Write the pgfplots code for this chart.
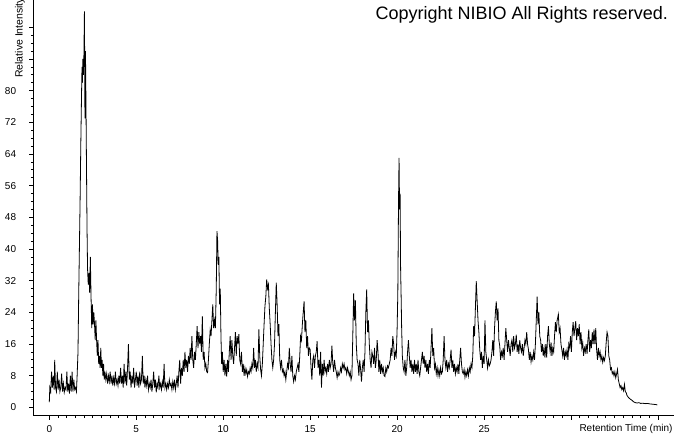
\documentclass[border=0pt]{standalone}
\usepackage{fontspec}
\setmainfont{Liberation Sans}
\usepackage{pgfplots}
\pgfplotsset{compat=1.18}
\usepackage{pgfplotstable}
\pgfplotstableread{
t v
0.00 1.3
0.03 5
0.08 4
0.13 9
0.18 5
0.23 8
0.28 4.5
0.31 12
0.36 5
0.41 4
0.46 9
0.51 4.5
0.56 7
0.61 4
0.66 5
0.71 8.5
0.76 4
0.81 6
0.86 3.8
0.91 5
0.96 4.5
1.01 9
1.06 4
1.11 6
1.16 3.5
1.21 8
1.26 4
1.31 9
1.36 4
1.41 7
1.46 4.5
1.51 5
1.56 4
1.60 8
1.65 14
1.69 28
1.73 40
1.77 52
1.81 66
1.85 78
1.88 86
1.90 82
1.93 88
1.96 84
1.99 89
2.02 100
2.05 73
2.08 90
2.11 76
2.14 60
2.17 45
2.20 35
2.24 31
2.28 34
2.32 29
2.36 38
2.40 28
2.44 20
2.48 26
2.52 21
2.56 24
2.60 21
2.64 17
2.68 22
2.72 17
2.76 13
2.80 17
2.84 11
2.88 13
2.92 10
2.96 15
3.00 10
3.04 12
3.08 8
3.12 11
3.16 7
3.20 9
3.25 7
3.30 8.5
3.35 6
3.40 8
3.45 6.5
3.50 9
3.55 6
3.60 8
3.65 5.5
3.70 7.5
3.75 6
3.80 9
3.85 6
3.90 7
3.95 5.5
4.00 8
4.05 6
4.10 10
4.15 6
4.20 8
4.25 5
4.30 11
4.35 6
4.40 9
4.45 5.5
4.50 10
4.55 16
4.60 7
4.65 9
4.70 5
4.75 8
4.80 6
4.85 10
4.90 5
4.95 7
5.00 9
5.05 5.5
5.10 8
5.15 5
5.20 9
5.25 6
5.30 7
5.35 13
5.40 6
5.45 8
5.50 5
5.55 7
5.60 5.5
5.65 8
5.70 4.5
5.75 6
5.80 5
5.85 7
5.90 4
5.95 6
6.00 9
6.05 5
6.10 7
6.15 3.8
6.20 6
6.25 5
6.30 8
6.35 5
6.40 6
6.45 4.5
6.50 6.5
6.55 5
6.60 11
6.65 5
6.70 6
6.75 4.5
6.80 6
6.85 5
6.90 7
6.95 5.5
7.00 6
7.05 4.5
7.10 6.5
7.15 5
7.20 7
7.25 4.5
7.30 6
7.35 8
7.40 5
7.45 9
7.50 12
7.55 6
7.60 10
7.65 8
7.70 12
7.75 9
7.80 14
7.85 10
7.90 12
7.95 9
8.00 13
8.05 11
8.10 15
8.15 12
8.20 18
8.25 12
8.30 10
8.35 14
8.40 12
8.45 16
8.50 20.5
8.55 15
8.60 19
8.65 16
8.70 18
8.75 14
8.80 23
8.85 12
8.90 14
8.95 10
9.00 11
9.05 9
9.10 8.8
9.15 12
9.20 16
9.25 19.5
9.30 18
9.35 22
9.40 26
9.45 20
9.50 22
9.55 20
9.60 30
9.64 44.5
9.68 42
9.71 36
9.75 38
9.79 26
9.83 30
9.87 18
9.91 11
9.95 14
10.00 9
10.05 12
10.10 8
10.15 11
10.20 7.8
10.25 12
10.30 9
10.35 14
10.40 18
10.45 12
10.50 17
10.55 13
10.60 11
10.65 15
10.70 19
10.75 13
10.80 18
10.85 16
10.90 18.5
10.95 12
11.00 11
11.05 14
11.10 9
11.15 11
11.20 8
11.25 10
11.30 8.5
11.35 9.5
11.40 7.8
11.45 9
11.50 8.5
11.55 10
11.60 9
11.65 11
11.70 10
11.75 15
11.80 10
11.85 12
11.90 9
11.95 11
12.00 10
12.05 19.7
12.10 13
12.15 9.6
12.20 8
12.25 11
12.30 16
12.35 21
12.40 25.6
12.45 28
12.50 32.3
12.55 30
12.60 31
12.65 25
12.70 21
12.75 16
12.80 12
12.85 10
12.90 12
12.95 16
13.00 24
13.05 31.5
13.10 26
13.15 18
13.20 21
13.25 12
13.30 10
13.35 12
13.40 9
13.45 9.6
13.50 8
13.55 9
13.60 7
13.65 9
13.70 11
13.75 10
13.80 15
13.85 11
13.90 9
13.95 13
14.00 8
14.05 6.5
14.10 8
14.15 7
14.20 9
14.25 10
14.30 11
14.35 9
14.40 13
14.45 18
14.50 17
14.55 21
14.60 24
14.65 26.8
14.70 19
14.75 22
14.80 15
14.85 18
14.90 13
14.95 15
15.00 14.6
15.05 10
15.10 7
15.15 12
15.20 13
15.25 10
15.30 13
15.35 14
15.40 16.7
15.45 10
15.50 12
15.55 8
15.60 14
15.65 5
15.70 11
15.75 8
15.80 12
15.85 9
15.90 10
15.95 8.5
16.00 11
16.05 9
16.10 12
16.15 10
16.20 11
16.25 15.6
16.30 11
16.35 9
16.40 12
16.45 10
16.50 9
16.55 7.5
16.60 9
16.65 8
16.70 8.5
16.75 10
16.80 9
16.85 11
16.90 10
16.95 11
17.00 9.5
17.05 10
17.10 8.5
17.15 10
17.20 9
17.25 8
17.30 9
17.35 7
17.40 8
17.45 18
17.50 28.8
17.55 22
17.60 27
17.65 16
17.70 12
17.75 11
17.80 8
17.85 12
17.90 9.6
17.95 6.5
18.00 10
18.05 12
18.10 9
18.15 14
18.20 24
18.25 29.8
18.30 19
18.35 22
18.40 16
18.45 12
18.50 10
18.55 14
18.60 13
18.65 11
18.70 15
18.75 10
18.80 12
18.85 17
18.90 14
18.95 9
19.00 12
19.05 8.5
19.10 11
19.15 9
19.20 10
19.25 8
19.30 7.8
19.35 10
19.40 9
19.45 10.5
19.50 10
19.55 11
19.60 12
19.65 15
19.70 13
19.75 18
19.80 16
19.85 12
19.90 14
19.95 13
20.00 20
20.04 29
20.08 52
20.11 63
20.14 50
20.17 54
20.20 35
20.23 28
20.26 20
20.30 13
20.35 10
20.40 9
20.45 12
20.50 8
20.55 10
20.60 14
20.65 17
20.70 13
20.75 10
20.80 12
20.85 9
20.90 11
20.95 8.5
21.00 12
21.05 9
21.10 11
21.15 8.5
21.20 12
21.25 9
21.30 8
21.35 10
21.40 12
21.45 14
21.50 11
21.55 13
21.60 10
21.65 12
21.70 9
21.75 11
21.80 8.5
21.85 12
21.90 10
21.95 15
22.00 20
22.05 13
22.10 15
22.15 10
22.20 11
22.25 8.5
22.30 10
22.35 8
22.40 9.5
22.45 8
22.50 10
22.55 8.5
22.60 9
22.65 12
22.70 18
22.75 12
22.80 10
22.85 12
22.90 9
22.95 11
23.00 10
23.05 12
23.10 14.6
23.15 10
23.20 12
23.25 9
23.30 11
23.35 8.5
23.40 10
23.45 9
23.50 11
23.55 8.5
23.60 12
23.65 15
23.70 11
23.75 9
23.80 8.5
23.85 9.6
23.90 7.6
23.95 9
24.00 8
24.05 9.5
24.10 8
24.15 10
24.20 9
24.25 11
24.30 10
24.35 13
24.40 20.5
24.45 18
24.50 25
24.55 31.9
24.60 27
24.65 22
24.70 19
24.75 14.6
24.80 12
24.85 14
24.90 10
24.95 13
25.00 11
25.05 22
25.10 14
25.15 12
25.20 10
25.25 12
25.30 10.5
25.35 11
25.40 12
25.45 14
25.50 17
25.55 13
25.60 20
25.65 24
25.70 26.8
25.75 22
25.80 25
25.85 17
25.90 15.5
25.95 12
26.00 14
26.05 13
26.10 15
26.15 12
26.20 16
26.25 20
26.30 17
26.35 14
26.40 17
26.45 15
26.50 13
26.55 16
26.60 17
26.65 14
26.70 18
26.75 15
26.80 16
26.85 18.4
26.90 14
26.95 16
27.00 13.5
27.05 17
27.10 15
27.15 14
27.20 16
27.25 13
27.30 15
27.35 17
27.40 16
27.45 19
27.50 16
27.55 14.6
27.60 12
27.65 14
27.70 11.5
27.75 13
27.80 12
27.85 14
27.90 12
27.95 16
28.00 22
28.05 28
28.10 21
28.15 24
28.20 18
28.25 17
28.30 14
28.35 16
28.40 13
28.45 15
28.50 12.6
28.55 16
28.60 12.6
28.65 18
28.70 20.5
28.75 16
28.80 14
28.85 16.4
28.90 13
28.95 15
29.00 14
29.05 18
29.10 21.5
29.15 19
29.20 22
29.27 23.5
29.32 19
29.37 20
29.42 16
29.47 14.6
29.52 13
29.57 15
29.62 12
29.67 14
29.72 13
29.77 14.6
29.82 12
29.87 16
29.92 15
29.97 18
30.02 14
30.07 19
30.12 21.5
30.17 18
30.22 20
30.27 21.8
30.32 17
30.37 20
30.42 18
30.47 21
30.52 16
30.57 19
30.62 15
30.67 16.4
30.72 13
30.77 15
30.82 14
30.87 16
30.92 13.5
30.97 17
31.02 19.7
31.07 14
31.12 17
31.17 15
31.22 19
31.27 16
31.32 19.7
31.37 16
31.42 20
31.47 14.6
31.52 12
31.57 15
31.62 13
31.67 14
31.72 12
31.77 13
31.82 11.4
31.87 12.6
31.92 11.8
31.97 13
32.02 16.4
32.07 19
32.12 18
32.17 13
32.22 12
32.27 9.6
32.32 10
32.37 8.5
32.42 9
32.47 8
32.52 9
32.57 7.5
32.62 8.5
32.67 9.6
32.72 7
32.77 6
32.82 5
32.87 5.5
32.92 4.5
32.97 5
33.02 4.2
33.07 5.8
33.12 4
33.17 3.7
33.22 3
33.30 2.5
33.40 2.1
33.50 1.8
33.60 1.4
33.70 1.2
33.80 1.1
33.90 1.2
34.00 1.0
34.10 1.05
34.20 1.0
34.30 0.95
34.40 1.0
34.50 0.9
34.60 0.85
34.70 0.8
34.80 0.75
34.90 0.7
34.96 0.6
}\chrom
\begin{document}
\begin{tikzpicture}
\useasboundingbox (0pt,0pt) rectangle (674pt,434pt);
\clip (0pt,0pt) rectangle (674pt,434pt);
\begin{axis}[
  at={(33.3pt,18.3pt)}, anchor=south west,
  scale only axis, width=640.7pt, height=415.7pt,
  xmin=-0.92, xmax=35.92, ymin=-2.1, ymax=102.9,
  axis x line=bottom, axis y line=left,
  axis line style={-, line width=0.8pt, black},
  xtick={0,5,...,35}, xticklabels={0,5,10,15,20,25,{},{}},
  minor x tick num=9,
  ytick={0,8,...,96}, yticklabels={0,8,16,24,32,40,48,56,64,72,80,{},{}},
  minor y tick num=3,
  tick align=outside,
  major tick length=4pt, minor tick length=2.5pt,
  tick style={line width=0.8pt, black},
  ticklabel style={font=\fontsize{10}{12}\selectfont, inner sep=0pt},
  /pgf/number format/assume math mode=true,
  xticklabel style={anchor=north, yshift=-6pt},
  yticklabel style={anchor=east, xshift=-13pt},
]
\addplot[black, line width=0.8pt, mark=none] table[x=t, y=v] {\chrom};
\end{axis}
\node[anchor=base east, inner sep=0pt, font=\fontsize{10}{12}\selectfont] at (672.7pt, 2.3pt) {Retention Time (min)};
\node[rotate=90, anchor=base west, inner sep=0pt, font=\fontsize{10.5}{12}\selectfont] at (22.7pt, 356pt) {Relative Intensity};
\node[anchor=base east, inner sep=0pt, font=\fontsize{18}{20}\selectfont] at (668pt, 414pt) {Copyright NIBIO All Rights reserved.};
\end{tikzpicture}
\end{document}
